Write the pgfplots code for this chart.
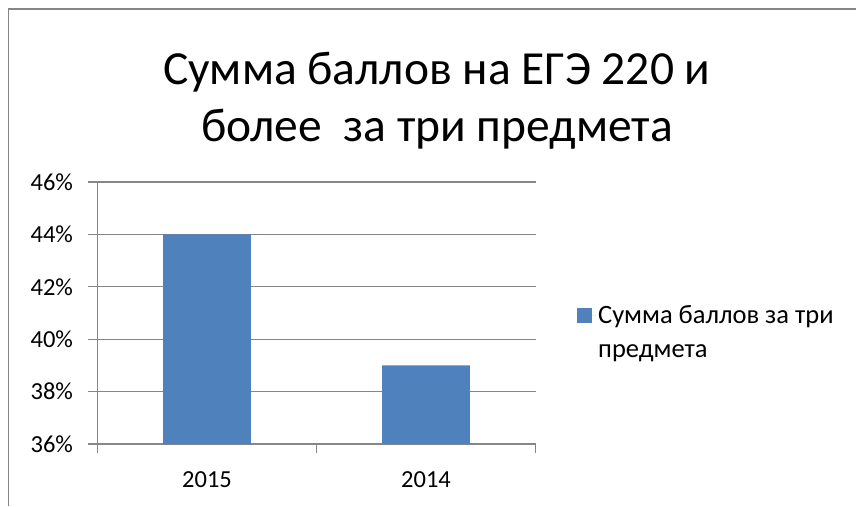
\documentclass[border=0pt]{standalone}
\usepackage{pgfplots}
\pgfplotsset{compat=1.18}
\usepackage{fontspec}
\setmainfont{Carlito}
\definecolor{barblue}{HTML}{4F81BD}
\definecolor{gridgray}{HTML}{868686}
\begin{document}
\begin{tikzpicture}[x=1pt,y=1pt]
\path[use as bounding box] (0,0) rectangle (856,506);
\draw[gridgray, line width=1.5pt] (8.5,0) -- (8.5,497) -- (856,497);
\node[font=\fontsize{47.5}{57}\selectfont, align=center] at (437,405) {Сумма баллов на ЕГЭ 220 и\\более\ \ за три предмета};
\begin{axis}[
  at={(97.5pt,62pt)}, anchor=south west,
  scale only axis, width=438pt, height=262pt,
  ymin=36, ymax=46, ytick={36,38,...,46},
  xmin=-0.5, xmax=1.5,
  xtick={-0.5,0.5,1.5}, xticklabels={2015,2014}, x tick label as interval,
  axis lines=left, axis line style={-, gridgray, line width=1.2pt},
  ymajorgrids, grid style={gridgray, line width=1.2pt},
  tick align=outside, major tick length=9pt, tick style={gridgray, line width=1.2pt},
  /pgf/number format/assume math mode=true,
  yticklabel={\pgfmathprintnumber{\tick}\%},
  tick label style={font=\fontsize{24.5}{30}\selectfont, black},
  y tick label style={xshift=-12pt},
  x tick label style={yshift=-15pt},
  legend style={draw=none, fill=none, at={(1.088,0.425)}, anchor=west,
    font=\fontsize{26.5}{34}\selectfont, nodes={align=left}},
  legend cell align=left,
  legend image code/.code={\fill[#1] (0pt,9.5pt) rectangle (15pt,24.5pt); \path (0pt,17pt) -- (19pt,17pt);},
]
\addplot[ybar, fill=barblue, draw=none, bar width=87.6pt] coordinates {(0,44) (1,39)};
\addlegendentry{Сумма баллов за три\\предмета}
\end{axis}
\end{tikzpicture}
\end{document}
